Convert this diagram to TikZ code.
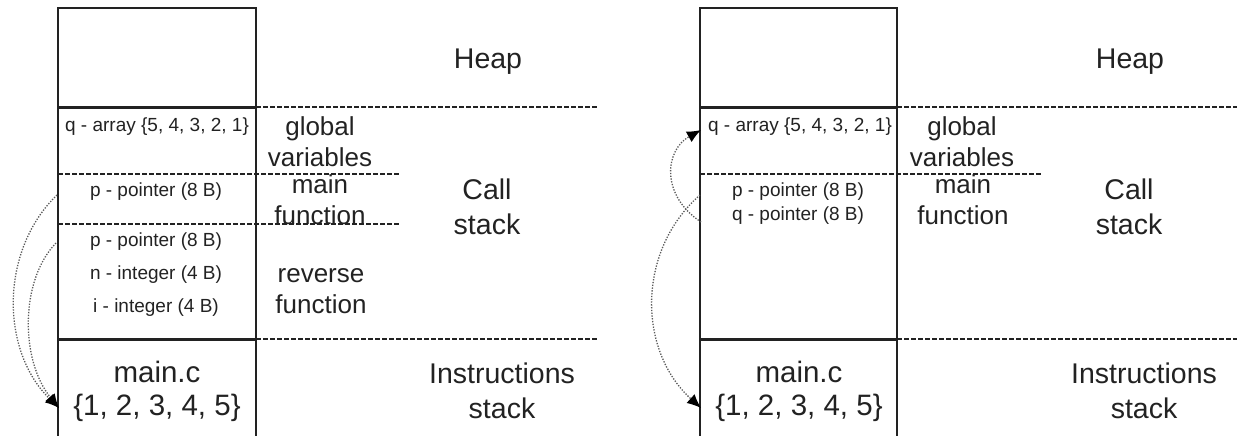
\documentclass[tikz,border=0pt]{standalone}
\usepackage{fontspec}
\setmainfont{Liberation Sans}
\usetikzlibrary{arrows.meta}
\definecolor{ink}{HTML}{222222}
\definecolor{refgray}{HTML}{5A5A5A}
\tikzset{
  frame/.style={draw=ink, line width=2.6pt},
  divider/.style={draw=ink, line width=3pt},
  sep/.style={draw=ink, line width=1.3pt, dash pattern=on 4.5pt off 2.5pt},
  cell/.style={text=ink, inner sep=0pt, align=center, font=\fontsize{19}{24}\selectfont},
  code/.style={text=ink, inner sep=0pt, align=center, font=\fontsize{29.5}{33}\selectfont},
  zonetext/.style={text=ink, inner sep=0pt, align=center, font=\fontsize{26}{31}\selectfont},
  regiontext/.style={text=ink, inner sep=0pt, align=center, font=\fontsize{28.5}{35}\selectfont},
  refarrow/.style={draw=refgray, line width=1.3pt, dash pattern=on 1.3pt off 1.5pt,
    -{Latex[length=14pt,width=12pt,color=black,fill=black]}},
}
\begin{document}
\begin{tikzpicture}[x=1pt,y=-1pt]
\useasboundingbox (0,0) rectangle (1237,436);

% ---------- memory layout while reverse() runs ----------
\draw[frame] (58,436) -- (58,8) -- (256,8) -- (256,436);
\draw[divider] (58,107) -- (256,107);
\draw[divider] (58,339) -- (256,339);
\draw[sep] (256,107) -- (598,107);
\draw[sep] (58,174) -- (400,174);
\draw[sep] (58,224) -- (400,224);
\draw[sep] (256,339) -- (598,339);

\node[cell] (qarrL) at (157,127) {q - array \{5, 4, 3, 2, 1\}};
\node[cell] (pmainL) at (156,192) {p - pointer (8 B)};
\node[cell] (prevL) at (156,242) {p - pointer (8 B)};
\node[cell] (nL) at (156,275) {n - integer (4 B)};
\node[cell] (iL) at (156,308) {i - integer (4 B)};
\node[code] (srcL) at (157,391) {main.c\\\{1, 2, 3, 4, 5\}};

\node[regiontext] (heapL) at (488,62) {Heap};
\node[zonetext] (globL) at (320,142) {global\\variables};
\node[zonetext] (mainfL) at (320,200) {main\\function};
\node[zonetext] (revfL) at (321,291) {reverse\\function};
\node[regiontext] (callL) at (487,207) {Call\\stack};
\node[regiontext] (instrL) at (502,391) {Instructions\\stack};

\coordinate (pmainLout) at (57,195);
\coordinate (prevLout) at (56,243);
\coordinate (srcLin) at (59,408);
\draw[refarrow] (pmainLout) .. controls (0,250) and (0,350) .. (srcLin);
\draw[refarrow] (prevLout) .. controls (20,280) and (20,360) .. (srcLin);

% ---------- memory layout after reverse() returns ----------
\draw[frame] (700,436) -- (700,8) -- (897,8) -- (897,436);
\draw[divider] (700,107) -- (897,107);
\draw[divider] (700,339) -- (897,339);
\draw[sep] (897,107) -- (1237,107);
\draw[sep] (700,174) -- (1042,174);
\draw[sep] (897,339) -- (1237,339);

\node[cell] (qarrR) at (800,127) {q - array \{5, 4, 3, 2, 1\}};
\node[cell] (ptrsR) at (798,204) {p - pointer (8 B)\\q - pointer (8 B)};
\node[code] (srcR) at (799,391) {main.c\\\{1, 2, 3, 4, 5\}};

\node[regiontext] (heapR) at (1130,62) {Heap};
\node[zonetext] (globR) at (962,142) {global\\variables};
\node[zonetext] (mainfR) at (963,200) {main\\function};
\node[regiontext] (callR) at (1129,207) {Call\\stack};
\node[regiontext] (instrR) at (1144,391) {Instructions\\stack};

\coordinate (pR) at (700,195);
\coordinate (qR) at (701,222);
\coordinate (qarrRin) at (701,130);
\coordinate (srcRin) at (701,408);
\draw[refarrow] (qR) .. controls (660,195) and (665,150) .. (qarrRin);
\draw[refarrow] (pR) .. controls (637,250) and (637,350) .. (srcRin);
\end{tikzpicture}
\end{document}
